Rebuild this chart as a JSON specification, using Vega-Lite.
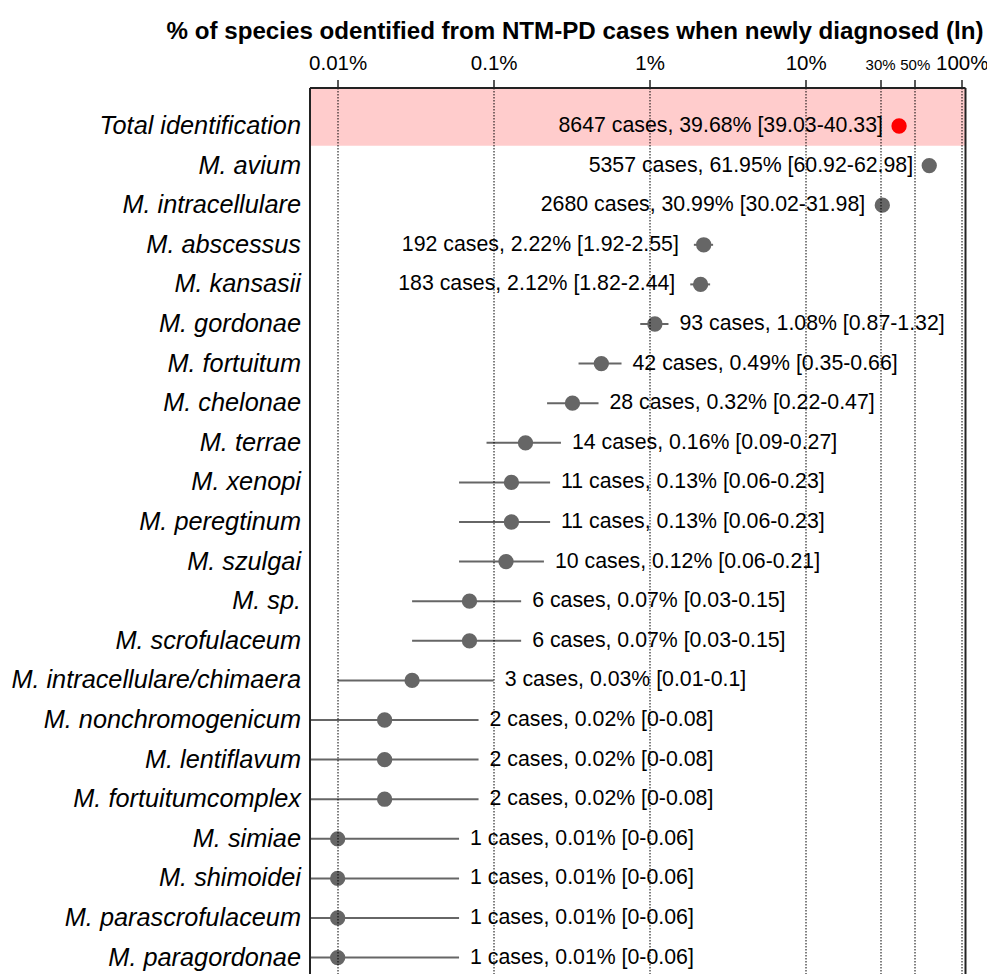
{
  "$schema": "https://vega.github.io/schema/vega-lite/v6.json",
  "width": 655.5,
  "height": 886.5,
  "autosize": {"type": "none"},
  "padding": {"left": 309.5, "top": 87.5, "right": 22, "bottom": 0},
  "config": {"font": "Liberation Sans", "view": {"stroke": null}},
  "data": {
    "values": [
      {"species": "Total identification", "n": 8647, "pct": 39.68, "lo": 39.03, "hi": 40.33},
      {"species": "M. avium", "n": 5357, "pct": 61.95, "lo": 60.92, "hi": 62.98},
      {"species": "M. intracellulare", "n": 2680, "pct": 30.99, "lo": 30.02, "hi": 31.98},
      {"species": "M. abscessus", "n": 192, "pct": 2.22, "lo": 1.92, "hi": 2.55},
      {"species": "M. kansasii", "n": 183, "pct": 2.12, "lo": 1.82, "hi": 2.44},
      {"species": "M. gordonae", "n": 93, "pct": 1.08, "lo": 0.87, "hi": 1.32},
      {"species": "M. fortuitum", "n": 42, "pct": 0.49, "lo": 0.35, "hi": 0.66},
      {"species": "M. chelonae", "n": 28, "pct": 0.32, "lo": 0.22, "hi": 0.47},
      {"species": "M. terrae", "n": 14, "pct": 0.16, "lo": 0.09, "hi": 0.27},
      {"species": "M. xenopi", "n": 11, "pct": 0.13, "lo": 0.06, "hi": 0.23},
      {"species": "M. peregtinum", "n": 11, "pct": 0.13, "lo": 0.06, "hi": 0.23},
      {"species": "M. szulgai", "n": 10, "pct": 0.12, "lo": 0.06, "hi": 0.21},
      {"species": "M. sp.", "n": 6, "pct": 0.07, "lo": 0.03, "hi": 0.15},
      {"species": "M. scrofulaceum", "n": 6, "pct": 0.07, "lo": 0.03, "hi": 0.15},
      {"species": "M. intracellulare/chimaera", "n": 3, "pct": 0.03, "lo": 0.01, "hi": 0.1},
      {"species": "M. nonchromogenicum", "n": 2, "pct": 0.02, "lo": 0, "hi": 0.08},
      {"species": "M. lentiflavum", "n": 2, "pct": 0.02, "lo": 0, "hi": 0.08},
      {"species": "M. fortuitumcomplex", "n": 2, "pct": 0.02, "lo": 0, "hi": 0.08},
      {"species": "M. simiae", "n": 1, "pct": 0.01, "lo": 0, "hi": 0.06},
      {"species": "M. shimoidei", "n": 1, "pct": 0.01, "lo": 0, "hi": 0.06},
      {"species": "M. parascrofulaceum", "n": 1, "pct": 0.01, "lo": 0, "hi": 0.06},
      {"species": "M. paragordonae", "n": 1, "pct": 0.01, "lo": 0, "hi": 0.06}
    ]
  },
  "transform": [
    {"calculate": "datum.n + ' cases, ' + datum.pct + '% [' + datum.lo + '-' + datum.hi + ']'", "as": "label"}
  ],
  "encoding": {
    "y": {
      "field": "species",
      "type": "nominal",
      "sort": null,
      "scale": {"type": "band", "range": [0, 908.6], "paddingInner": 0, "paddingOuter": 0.472},
      "axis": null
    }
  },
  "layer": [
    {
      "transform": [{"filter": "datum.species === 'Total identification'"}],
      "mark": {"type": "rect", "color": "#FFCCCC", "height": {"band": 1.472}, "yOffset": -9.35}
    },
    {
      "mark": {"type": "rule", "color": "#666666", "strokeWidth": 2},
      "encoding": {
        "x": {
          "field": "lo",
          "type": "quantitative",
          "scale": {"type": "log", "domain": [0.0066, 105], "clamp": true, "nice": false, "zero": false},
          "axis": {
            "orient": "top",
            "values": [0.01, 0.1, 1, 10, 30, 50, 100],
            "labelExpr": "datum.value + '%'",
            "labelFontSize": {"expr": "datum.value == 30 || datum.value == 50 ? 15 : 20.5"},
            "labelColor": "black",
            "labelPadding": 10,
            "labelBaseline": "alphabetic",
            "labelOverlap": false,
            "labelFlush": false,
            "tickSize": 8,
            "tickColor": "#222222",
            "tickWidth": 1.5,
            "domain": true,
            "domainColor": "#222222",
            "domainWidth": 2,
            "grid": true,
            "gridColor": "black",
            "gridDash": [1.5, 1.5],
            "gridWidth": 1,
            "zindex": 1,
            "title": "% of species odentified from NTM-PD cases when newly diagnosed (ln)",
            "titleFontSize": 24.15,
            "titleFontWeight": "bold",
            "titleColor": "black",
            "titleAnchor": "end",
            "titleAlign": "right",
            "titleBaseline": "alphabetic",
            "titleX": 673.5,
            "titleY": -49.5
          }
        },
        "x2": {"field": "hi"},
        "y": {
          "field": "species",
          "type": "nominal",
          "sort": null,
          "axis": {
            "orient": "right",
            "labels": false,
            "ticks": false,
            "title": null,
            "grid": false,
            "domain": true,
            "domainColor": "#222222",
            "domainWidth": 2,
            "zindex": 1
          }
        }
      }
    },
    {
      "mark": {"type": "circle", "size": 235, "opacity": 1},
      "encoding": {
        "x": {"field": "pct", "type": "quantitative"},
        "color": {
          "condition": {"test": "datum.species === 'Total identification'", "value": "#FF0000"},
          "value": "#666666"
        },
        "y": {
          "field": "species",
          "type": "nominal",
          "sort": null,
          "axis": {
            "orient": "left",
            "title": null,
            "grid": false,
            "ticks": false,
            "tickSize": 0,
            "domain": true,
            "domainColor": "#222222",
            "domainWidth": 2,
            "labelFontSize": 25.3,
            "labelFontStyle": "italic",
            "labelColor": "black",
            "labelPadding": 9,
            "labelLimit": 500,
            "zindex": 1
          }
        }
      }
    },
    {
      "transform": [{"filter": "datum.pct > 2"}],
      "mark": {"type": "text", "align": "right", "baseline": "middle", "dx": -15, "fontSize": 21.3, "color": "black"},
      "encoding": {
        "x": {"field": "lo", "type": "quantitative"},
        "text": {"field": "label"}
      }
    },
    {
      "transform": [{"filter": "datum.pct <= 2"}],
      "mark": {"type": "text", "align": "left", "baseline": "middle", "dx": 11, "fontSize": 21.3, "color": "black"},
      "encoding": {
        "x": {"field": "hi", "type": "quantitative"},
        "text": {"field": "label"}
      }
    }
  ],
  "resolve": {"axis": {"y": "independent"}}
}
